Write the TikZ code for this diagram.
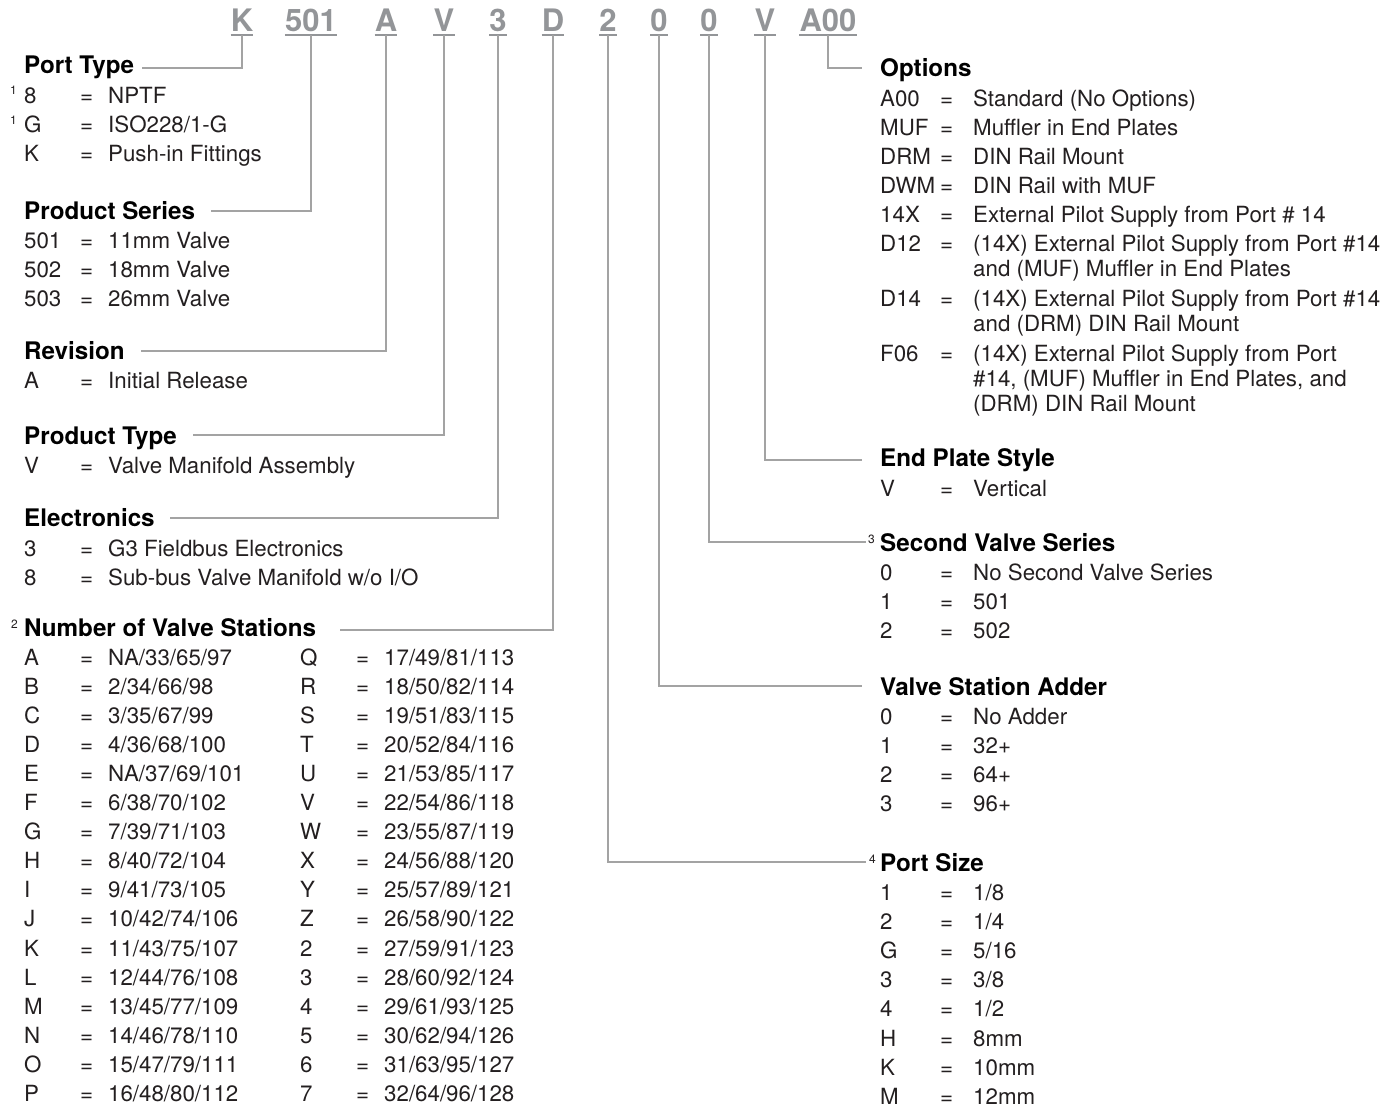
\documentclass[tikz,border=0pt]{standalone}
\usepackage{fontspec}
\setmainfont{TeX Gyre Heros}
\definecolor{textcol}{HTML}{231F20}
\definecolor{codecol}{HTML}{939598}
\definecolor{linecol}{HTML}{A3A3A3}
\newcommand\bodyfont{\fontsize{22.3}{26}\selectfont}
\newcommand\titlefont{\fontsize{24.2}{28}\selectfont\bfseries}
\newcommand\codefont{\fontsize{31}{36}\selectfont\bfseries}
\newcommand\supfont{\fontsize{12}{14}\selectfont}
\newcommand\lent[5]{%
  \node[txt] (#1c) at (#2,#3+8) {#4};
  \node[txt] (#1e) at (#2+56,#3+8) {=};
  \node[txt] (#1v) at (#2+84,#3+8) {#5};}
\newcommand\rent[5]{%
  \node[txt] (#1c) at (#2,#3+8) {#4};
  \node[txt] (#1e) at (#2+60,#3+8) {=};
  \node[txt] (#1v) at (#2+93,#3+8) {#5};}
\begin{document}
\begin{tikzpicture}[x=1pt,y=-1pt,
  txt/.style={anchor=base west,inner sep=0pt,font=\bodyfont,text=textcol},
  ttl/.style={anchor=base west,inner sep=0pt,font=\titlefont,text=black},
  codeltr/.style={anchor=base,inner sep=0pt,font=\codefont,text=codecol},
  supnum/.style={anchor=base west,inner sep=0pt,font=\supfont,text=textcol},
  conn/.style={draw=linecol,line width=1.3pt},
  uline/.style={draw=codecol,line width=1.6pt}]
\useasboundingbox (0,0) rectangle (1397,1108);

% ---- code letters ----
\foreach \nm/\xx/\tx in {K/242/K,S/311/501,R/386/A,T/444/V,E/498/3,D/553/D,A/608/2,B/659/0,C/709/0,P/765/V,O/828/A00}{
  \node[codeltr] (c\nm) at (\xx,31.5) {\tx};
  \draw[uline] ([yshift=-3.5pt]c\nm.base west) -- ([yshift=-3.5pt]c\nm.base east);
}

% ---- left column ----
\node[ttl] (tPT) at (24,74) {Port Type};
\node[supnum] (s1a) at (10,95) {1};
\lent{pt8}{24}{95}{8}{NPTF}
\node[supnum] (s1b) at (10,124) {1};
\lent{ptG}{24}{124}{G}{ISO228/1-G}
\lent{ptK}{24}{153}{K}{Push-in Fittings}

\node[ttl] (tPS) at (24,219) {Product Series};
\lent{psa}{24}{240}{501}{11mm Valve}
\lent{psb}{24}{269}{502}{18mm Valve}
\lent{psc}{24}{298}{503}{26mm Valve}

\node[ttl] (tRV) at (24,359) {Revision};
\lent{rva}{24}{380}{A}{Initial Release}

\node[ttl] (tPY) at (24,444) {Product Type};
\lent{pya}{24}{465}{V}{Valve Manifold Assembly}

\node[ttl] (tEL) at (24,526) {Electronics};
\lent{ela}{24}{548}{3}{G3 Fieldbus Electronics}
\lent{elb}{24}{577}{8}{Sub-bus Valve Manifold w/o I/O}

\node[supnum] (s2) at (11,628) {2};
\node[ttl] (tNV) at (24,636) {Number of Valve Stations};
\foreach \i/\ca/\va/\cb/\vb in {0/A/NA\slash 33\slash 65\slash 97/Q/17\slash 49\slash 81\slash 113,
  1/B/2\slash 34\slash 66\slash 98/R/18\slash 50\slash 82\slash 114,
  2/C/3\slash 35\slash 67\slash 99/S/19\slash 51\slash 83\slash 115,
  3/D/4\slash 36\slash 68\slash 100/T/20\slash 52\slash 84\slash 116,
  4/E/NA\slash 37\slash 69\slash 101/U/21\slash 53\slash 85\slash 117,
  5/F/6\slash 38\slash 70\slash 102/V/22\slash 54\slash 86\slash 118,
  6/G/7\slash 39\slash 71\slash 103/W/23\slash 55\slash 87\slash 119,
  7/H/8\slash 40\slash 72\slash 104/X/24\slash 56\slash 88\slash 120,
  8/I/9\slash 41\slash 73\slash 105/Y/25\slash 57\slash 89\slash 121,
  9/J/10\slash 42\slash 74\slash 106/Z/26\slash 58\slash 90\slash 122,
  10/K/11\slash 43\slash 75\slash 107/2/27\slash 59\slash 91\slash 123,
  11/L/12\slash 44\slash 76\slash 108/3/28\slash 60\slash 92\slash 124,
  12/M/13\slash 45\slash 77\slash 109/4/29\slash 61\slash 93\slash 125,
  13/N/14\slash 46\slash 78\slash 110/5/30\slash 62\slash 94\slash 126,
  14/O/15\slash 47\slash 79\slash 111/6/31\slash 63\slash 95\slash 127,
  15/P/16\slash 48\slash 80\slash 112/7/32\slash 64\slash 96\slash 128}{
  \pgfmathsetmacro\yy{657+29.1*\i}
  \lent{nvl\i}{24}{\yy}{\ca}{\va}
  \lent{nvr\i}{300}{\yy}{\cb}{\vb}
}

% ---- right column ----
\node[ttl] (tOP) at (880,77) {Options};
\rent{opa}{880}{98}{A00}{Standard (No Options)}
\rent{opb}{880}{127}{MUF}{Muffler in End Plates}
\rent{opc}{880}{156}{DRM}{DIN Rail Mount}
\rent{opd}{880}{185}{DWM}{DIN Rail with MUF}
\rent{ope}{880}{214}{14X}{External Pilot Supply from Port \# 14}
\rent{opf}{880}{243}{D12}{(14X) External Pilot Supply from Port \#14}
\node[txt] (opf2) at (973,276) {and (MUF) Muffler in End Plates};
\rent{opg}{880}{298}{D14}{(14X) External Pilot Supply from Port \#14}
\node[txt] (opg2) at (973,331) {and (DRM) DIN Rail Mount};
\rent{oph}{880}{353}{F06}{(14X) External Pilot Supply from Port}
\node[txt] (oph2) at (973,386) {\#14, (MUF) Muffler in End Plates, and};
\node[txt] (oph3) at (973,411) {(DRM) DIN Rail Mount};

\node[ttl] (tEP) at (880,466) {End Plate Style};
\rent{epa}{880}{488}{V}{Vertical}

\node[supnum] (s3) at (868,543) {3};
\node[ttl] (tSV) at (880,551) {Second Valve Series};
\rent{sva}{880}{572}{0}{No Second Valve Series}
\rent{svb}{880}{601}{1}{501}
\rent{svc}{880}{630}{2}{502}

\node[ttl] (tVA) at (880,695) {Valve Station Adder};
\rent{vaa}{880}{716}{0}{No Adder}
\rent{vab}{880}{745}{1}{32+}
\rent{vac}{880}{774}{2}{64+}
\rent{vad}{880}{803}{3}{96+}

\node[supnum] (s4) at (869,863) {4};
\node[ttl] (tPZ) at (880,871) {Port Size};
\rent{pza}{880}{892}{1}{1/8}
\rent{pzb}{880}{921}{2}{1/4}
\rent{pzc}{880}{950}{G}{5/16}
\rent{pzd}{880}{979}{3}{3/8}
\rent{pze}{880}{1008}{4}{1/2}
\rent{pzf}{880}{1038}{H}{8mm}
\rent{pzg}{880}{1067}{K}{10mm}
\rent{pzh}{880}{1096}{M}{12mm}

% ---- connectors ----
\draw[conn] ([yshift=-3.5pt]cK.base) |- ([xshift=8pt,yshift=6pt]tPT.base east);
\draw[conn] ([yshift=-3.5pt]cS.base) |- ([xshift=16pt,yshift=8pt]tPS.base east);
\draw[conn] ([yshift=-3.5pt]cR.base) |- ([xshift=16pt,yshift=8pt]tRV.base east);
\draw[conn] ([yshift=-3.5pt]cT.base) |- ([xshift=16pt,yshift=9pt]tPY.base east);
\draw[conn] ([yshift=-3.5pt]cE.base) |- ([xshift=15pt,yshift=8pt]tEL.base east);
\draw[conn] ([yshift=-3.5pt]cD.base) |- ([xshift=24pt,yshift=6pt]tNV.base east);
\draw[conn] ([yshift=-3.5pt]cO.base) |- ([xshift=-18pt,yshift=9pt]tOP.base west);
\draw[conn] ([yshift=-3.5pt]cP.base) |- ([xshift=-18pt,yshift=6pt]tEP.base west);
\draw[conn] ([yshift=-3.5pt]cC.base) |- ([xshift=-14pt,yshift=9pt]tSV.base west);
\draw[conn] ([yshift=-3.5pt]cB.base) |- ([xshift=-18pt,yshift=9pt]tVA.base west);
\draw[conn] ([yshift=-3.5pt]cA.base) |- ([xshift=-14pt,yshift=9pt]tPZ.base west);
\end{tikzpicture}
\end{document}
